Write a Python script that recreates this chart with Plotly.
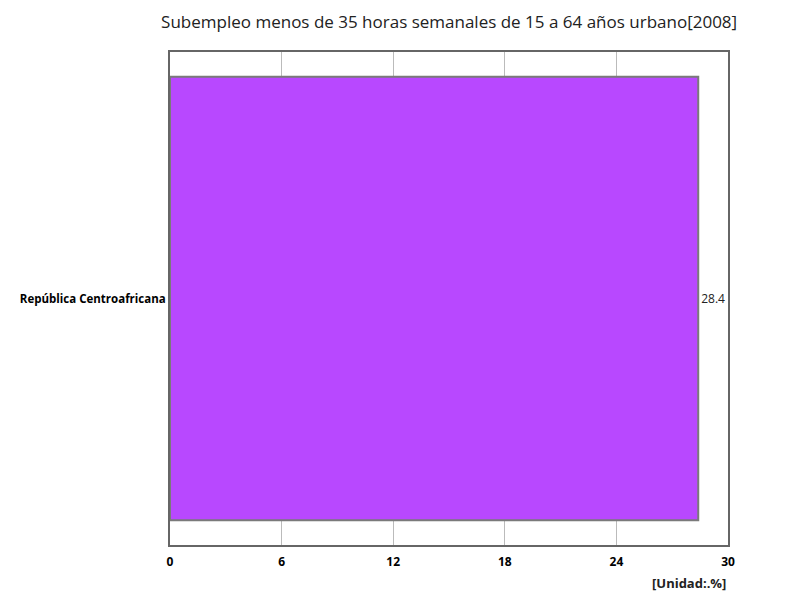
import plotly.graph_objects as go

TITLE = "Subempleo menos de 35 horas semanales de 15 a 64 años urbano[2008]"
countries = ["República Centroafricana"]
values = [28.4]
tick_values = [0, 6, 12, 18, 24, 30]


def create_figure():
    bar = go.Bar(
        x=values,
        y=countries,
        orientation="h",
        marker=dict(color="#b848ff", line=dict(color="#7a7a7a", width=2)),
        text=[f"{v}" for v in values],
        textposition="outside",
        textfont=dict(family="Open Sans", size=12, color="#222"),
        cliponaxis=False,
        width=0.9,
    )
    # the page body has an 8px margin, so the figure is sized 8px smaller
    layout = go.Layout(
        width=792,
        height=592,
        paper_bgcolor="white",
        plot_bgcolor="white",
        margin=dict(l=162, r=72, t=44, b=55),
        title=dict(
            text=TITLE,
            x=0.557,
            xanchor="center",
            y=0.976,
            yanchor="middle",
            font=dict(family="Open Sans", size=17, color="#222"),
        ),
        xaxis=dict(
            range=[0, 30],
            tickvals=tick_values,
            showgrid=True,
            gridcolor="#bbbbbb",
            gridwidth=1,
            zeroline=False,
            showline=True,
            linecolor="#666666",
            linewidth=2,
            mirror=True,
            ticks="",
            ticklen=0,
            ticklabelstandoff=5,
            tickfont=dict(family="Open Sans", size=12, color="black", weight="bold"),
        ),
        yaxis=dict(
            showline=True,
            linecolor="#666666",
            linewidth=2,
            mirror=True,
            ticks="",
            tickfont=dict(family="Open Sans", size=11.5, color="black", weight="bold"),
        ),
        annotations=[
            dict(
                text="[Unidad:.%]",
                xref="paper",
                yref="paper",
                x=1,
                y=-0.055,
                xanchor="right",
                yanchor="top",
                showarrow=False,
                font=dict(family="Open Sans", size=13, color="#222", weight="bold"),
            )
        ],
        showlegend=False,
    )
    return go.Figure(data=[bar], layout=layout)


fig = create_figure()
fig.write_html("out.html")
